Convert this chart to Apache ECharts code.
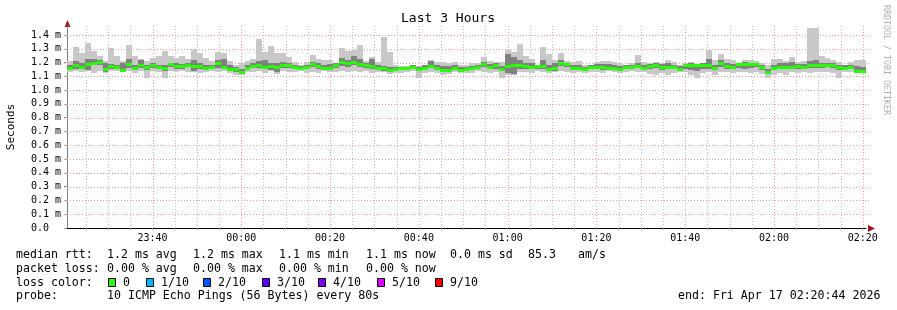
<!DOCTYPE html>
<html><head><meta charset="utf-8">
<script src="https://cdn.jsdelivr.net/npm/echarts@6/dist/echarts.min.js"></script>
<style>html,body{margin:0;padding:0;background:#fff;}#c{width:897px;height:310px;}</style>
</head><body><div id="c"></div>
<script>
// ---- data (milliseconds) ----
const endTime = 8444;   // seconds after 00:00 -> 02:20:44
const stepSec = 80;
const medianRtt = [
1.163,1.182,1.170,1.189,1.199,1.206,1.151,1.172,1.167,1.146,1.189,1.158,1.184,1.165,1.184,1.165,1.160,1.189,1.175,1.172,1.182,1.172,1.175,1.160,1.167,1.194,1.165,1.151,1.151,1.134,1.160,1.175,1.184,1.170,1.172,1.165,1.184,1.184,1.170,1.158,1.165,1.189,1.177,1.160,1.158,
1.184,1.201,1.196,1.201,1.187,1.180,1.172,1.160,1.158,1.148,1.151,1.158,1.160,1.165,1.153,1.158,1.175,1.158,1.143,1.148,1.158,1.148,1.153,1.158,1.165,1.189,1.170,1.180,1.155,1.172,1.180,1.184,1.172,1.165,1.172,1.175,1.155,1.160,1.199,1.189,1.160,1.158,1.155,1.165,1.167,
1.165,1.158,1.160,1.153,1.165,1.170,1.177,1.158,1.175,1.184,1.167,1.167,1.167,1.155,1.184,1.180,1.180,1.184,1.184,1.158,1.199,1.172,1.167,1.192,1.192,1.192,1.189,1.165,1.134,1.163,1.167,1.167,1.167,1.172,1.167,1.184,1.184,1.184,1.184,1.184,1.165,1.163,1.167,1.139,1.139];
const maxRtt = [
1.208,1.312,1.269,1.341,1.286,1.247,1.208,1.305,1.247,1.208,1.329,1.245,1.228,1.208,1.233,1.247,1.286,1.247,1.233,1.247,1.225,1.300,1.269,1.233,1.208,1.276,1.269,1.208,1.184,1.196,1.208,1.225,1.370,1.276,1.322,1.269,1.269,1.242,1.201,1.184,1.201,1.254,1.225,1.218,1.218,
1.196,1.305,1.281,1.293,1.324,1.208,1.237,1.204,1.384,1.276,1.184,1.172,1.177,1.184,1.172,1.184,1.216,1.201,1.201,1.196,1.201,1.184,1.184,1.196,1.196,1.237,1.213,1.201,1.201,1.293,1.273,1.334,1.245,1.225,1.184,1.312,1.261,1.220,1.269,1.208,1.201,1.208,1.184,1.180,1.201,
1.208,1.213,1.201,1.196,1.184,1.196,1.257,1.201,1.196,1.201,1.194,1.216,1.204,1.184,1.196,1.201,1.184,1.196,1.290,1.220,1.261,1.228,1.216,1.196,1.216,1.218,1.213,1.196,1.184,1.225,1.225,1.208,1.240,1.201,1.208,1.452,1.452,1.245,1.233,1.216,1.201,1.184,1.204,1.216,1.216];
const minRtt = [
1.131,1.136,1.129,1.141,1.124,1.136,1.122,1.136,1.141,1.129,1.141,1.124,1.141,1.088,1.141,1.129,1.088,1.136,1.131,1.141,1.129,1.131,1.124,1.129,1.141,1.131,1.136,1.124,1.112,1.112,1.129,1.131,1.136,1.124,1.136,1.117,1.136,1.129,1.131,1.136,1.124,1.131,1.124,1.136,1.131,
1.129,1.136,1.131,1.136,1.129,1.136,1.124,1.131,1.129,1.117,1.124,1.124,1.131,1.136,1.088,1.124,1.129,1.124,1.112,1.117,1.129,1.124,1.124,1.124,1.136,1.129,1.124,1.131,1.088,1.112,1.112,1.129,1.129,1.124,1.136,1.129,1.124,1.129,1.141,1.129,1.124,1.129,1.124,1.131,1.129,
1.124,1.136,1.129,1.124,1.129,1.136,1.129,1.129,1.117,1.112,1.124,1.112,1.124,1.129,1.129,1.112,1.088,1.124,1.129,1.112,1.129,1.129,1.124,1.129,1.129,1.124,1.129,1.117,1.088,1.112,1.124,1.112,1.129,1.124,1.129,1.124,1.129,1.129,1.129,1.124,1.088,1.129,1.129,1.124,1.129];
const hiRtt = [
1.180,1.210,1.195,1.225,1.225,1.215,1.200,1.190,1.185,1.200,1.225,1.180,1.215,1.185,1.200,1.185,1.180,1.200,1.195,1.190,1.200,1.215,1.200,1.185,1.180,1.215,1.225,1.180,1.165,1.150,1.180,1.200,1.210,1.215,1.200,1.195,1.205,1.200,1.185,1.175,1.185,1.205,1.200,1.180,1.190,
1.195,1.230,1.215,1.250,1.225,1.200,1.225,1.180,1.175,1.170,1.165,1.170,1.170,1.180,1.165,1.180,1.210,1.185,1.175,1.175,1.180,1.170,1.170,1.175,1.180,1.205,1.190,1.195,1.175,1.265,1.240,1.215,1.200,1.200,1.180,1.215,1.185,1.200,1.215,1.200,1.180,1.185,1.170,1.180,1.190,
1.190,1.190,1.185,1.175,1.180,1.185,1.195,1.185,1.190,1.195,1.190,1.195,1.185,1.175,1.190,1.195,1.180,1.195,1.225,1.185,1.215,1.200,1.190,1.195,1.205,1.200,1.200,1.185,1.150,1.185,1.200,1.195,1.205,1.190,1.190,1.210,1.215,1.200,1.200,1.195,1.180,1.180,1.185,1.175,1.170];
const loRtt = [
1.150,1.150,1.150,1.145,1.180,1.185,1.135,1.155,1.150,1.135,1.160,1.145,1.160,1.145,1.160,1.150,1.140,1.165,1.155,1.155,1.165,1.140,1.155,1.145,1.150,1.160,1.150,1.140,1.135,1.120,1.145,1.160,1.160,1.150,1.145,1.130,1.160,1.160,1.150,1.145,1.150,1.165,1.150,1.145,1.145,
1.160,1.175,1.170,1.180,1.165,1.160,1.155,1.145,1.140,1.135,1.140,1.145,1.150,1.150,1.140,1.145,1.160,1.145,1.130,1.135,1.145,1.135,1.140,1.145,1.150,1.170,1.150,1.155,1.140,1.125,1.120,1.150,1.150,1.150,1.155,1.150,1.140,1.140,1.175,1.165,1.145,1.145,1.145,1.150,1.155,
1.145,1.145,1.145,1.140,1.150,1.155,1.160,1.145,1.150,1.160,1.145,1.150,1.150,1.140,1.150,1.145,1.140,1.150,1.150,1.145,1.165,1.155,1.150,1.160,1.155,1.160,1.165,1.145,1.120,1.145,1.150,1.150,1.150,1.155,1.150,1.160,1.160,1.160,1.165,1.160,1.145,1.145,1.150,1.125,1.125];
const tickTimes  = [-1200, 0, 1200, 2400, 3600, 4800, 6000, 7200, 8400];
const tickLabels = ['23:40','00:00','00:20','00:40','01:00','01:20','01:40','02:00','02:20'];
const yTickValues = [0,0.1,0.2,0.3,0.4,0.5,0.6,0.7,0.8,0.9,1.0,1.1,1.2,1.3,1.4];
const statsRtt  = ['1.2 ms avg','1.2 ms max','1.1 ms min','1.1 ms now','0.0 ms sd','85.3','am/s'];
const statsLoss = ['0.00 % avg','0.00 % max','0.00 % min','0.00 % now'];
const lossLabels = ['0','1/10','2/10','3/10','4/10','5/10','9/10'];
const lossColors = ['#26ff00','#00b8ff','#0059ff','#5e00ff','#7e00ff','#dd00ff','#ff0000'];

// ---- build ----
const N = medianRtt.length;
const startTime = endTime - N * stepSec;
const yMax = 1.465;
const smokeData = medianRtt.map((m, i) => [startTime + i * stepSec, startTime + (i + 1) * stepSec, minRtt[i], loRtt[i], m, hiRtt[i], maxRtt[i]]);
const minorTimes = [];
for (let t = -2100; t <= 8400; t += 300) minorTimes.push(t);
const vGridData = minorTimes.map(t => [t, (t % 1200 === 0) ? 1 : 0]);
const hGridData = yTickValues.filter(v => v > 0).map(v => [startTime, v]);

const FONT = 'DejaVu Sans Mono';
const MAJOR = '#f09a9a', MINOR = '#c4c4c4';

function renderSmoke(params, api) {
  const t0 = api.value(0), t1 = api.value(1);
  const x0 = Math.round(api.coord([t0, 0])[0]);
  const x1 = Math.round(api.coord([t1, 0])[0]);
  const y = v => Math.round(api.coord([t0, v])[1]);
  const w = x1 - x0;
  const ym = y(api.value(4));
  return { type: 'group', children: [
    { type: 'rect', shape: { x: x0, y: y(api.value(6)), width: w, height: y(api.value(2)) - y(api.value(6)) }, style: { fill: '#c8c8c8' } },
    { type: 'rect', shape: { x: x0, y: y(api.value(5)), width: w, height: y(api.value(3)) - y(api.value(5)) }, style: { fill: '#808080' } },
    { type: 'rect', shape: { x: x0, y: ym - 1, width: w, height: 3 }, style: { fill: '#26ff00' } }
  ]};
}
function renderV(params, api) {
  const t = api.value(0);
  const p0 = api.coord([t, 0]), p1 = api.coord([t, yMax]);
  const x = Math.round(p0[0]) + 0.5;
  return { type: 'line', shape: { x1: x, y1: p0[1], x2: x, y2: p1[1] },
    style: { stroke: api.value(1) ? MAJOR : MINOR, lineWidth: 1, lineDash: [1, 2] } };
}
function renderH(params, api) {
  const v = api.value(1);
  const p0 = api.coord([startTime, v]), p1 = api.coord([endTime, v]);
  const y = Math.round(p0[1]) + 0.5;
  return { type: 'line', shape: { x1: p0[0] - 3, y1: y, x2: p1[0] + 3, y2: y },
    style: { stroke: MAJOR, lineWidth: 1, lineDash: [1, 2] } };
}

const graphics = [];
const T = (x, y, text, extra) => graphics.push(Object.assign({ type: 'text', x: x, y: y,
  style: Object.assign({ text: text, fill: '#000', font: '11.6px "' + FONT + '"', verticalAlign: 'middle' }, extra || {}) }));
T(448, 19, 'Last 3 Hours', { align: 'center', font: '13px "' + FONT + '"' });
graphics.push({ type: 'text', x: 11, y: 127, rotation: Math.PI / 2,
  style: { text: 'Seconds', fill: '#000', font: '11px "' + FONT + '"', align: 'center', verticalAlign: 'middle' } });
graphics.push({ type: 'text', x: 886, y: 60, rotation: -Math.PI / 2,
  style: { text: 'RRDTOOL / TOBI OETIKER', fill: '#b0b0b0', font: '8.3px "' + FONT + '"', align: 'center', verticalAlign: 'middle' } });
// legend
const rttX = [107, 193, 279, 366, 450, 528, 578];
T(16, 255, 'median rtt:');
statsRtt.forEach((s, i) => T(rttX[i], 255, s));
T(16, 268.5, 'packet loss:');
statsLoss.forEach((s, i) => T(rttX[i], 268.5, s));
T(16, 282.5, 'loss color:');
const boxX = [108, 146, 203, 262, 318, 377, 435];
lossLabels.forEach((s, i) => {
  graphics.push({ type: 'rect', shape: { x: boxX[i] + 0.5, y: 278.5, width: 7, height: 8 },
    style: { fill: lossColors[i], stroke: '#000', lineWidth: 1 } });
  T(boxX[i] + 15, 282.5, s);
});
T(16, 296, 'probe:');
T(107, 296, '10 ICMP Echo Pings (56 Bytes) every 80s');
T(678, 296, 'end: Fri Apr 17 02:20:44 2026');
// axis arrows
graphics.push({ type: 'polygon', shape: { points: [[64.5, 27], [70.5, 27], [67.5, 20]] }, style: { fill: '#9b1c1c' } });
graphics.push({ type: 'polygon', shape: { points: [[868, 225], [868, 232], [875, 228.5]] }, style: { fill: '#9b1c1c' } });

const chart = echarts.init(document.getElementById('c'), null, { renderer: 'canvas' });
chart.setOption({
  animation: false,
  backgroundColor: '#fff',
  grid: { left: 67, right: 31, top: 26, bottom: 82, containLabel: false },
  xAxis: {
    type: 'value', min: startTime, max: endTime,
    axisLine: { show: true, onZero: false, lineStyle: { color: '#000', width: 1 } },
    axisTick: { show: true, customValues: minorTimes, length: 2, inside: false, lineStyle: { color: '#999' } },
    axisLabel: { customValues: tickTimes, formatter: v => tickLabels[tickTimes.indexOf(v)] || '',
      fontFamily: FONT, fontSize: 10, color: '#000', margin: 5 },
    splitLine: { show: false }
  },
  yAxis: {
    type: 'value', min: 0, max: yMax,
    axisLine: { show: true, onZero: false, lineStyle: { color: '#808080', width: 1 } },
    axisTick: { show: true, customValues: yTickValues, length: 3, lineStyle: { color: '#999' } },
    axisLabel: { customValues: yTickValues, formatter: v => v === 0 ? '0.0' : v.toFixed(1) + ' m',
      fontFamily: FONT, fontSize: 10, color: '#000', align: 'left', margin: 36 },
    splitLine: { show: false }
  },
  graphic: graphics,
  series: [
    { type: 'custom', name: 'vgrid', renderItem: renderV, data: vGridData, silent: true, z: 1, clip: false },
    { type: 'custom', name: 'hgrid', renderItem: renderH, data: hGridData, silent: true, z: 1, clip: false },
    { type: 'custom', name: 'smoke', renderItem: renderSmoke, data: smokeData, silent: true, z: 2,
      encode: { x: [0, 1], y: [2, 6] } }
  ]
});
</script></body></html>
